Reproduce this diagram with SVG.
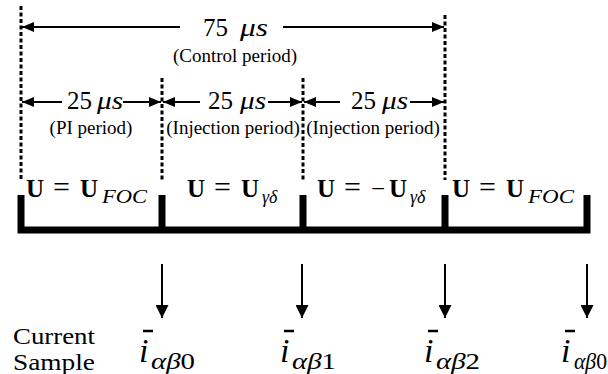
<svg xmlns="http://www.w3.org/2000/svg" width="608" height="374" viewBox="0 0 608 374" font-family="'Liberation Serif', 'DejaVu Serif', serif">
<style>
text{font-family:'Liberation Serif','DejaVu Serif',serif;fill:#000}
.dash{stroke:#000;stroke-width:3;stroke-dasharray:4 2.5;fill:none}
.ha{stroke:#000;stroke-width:1.8;fill:none;marker-end:url(#ah)}
.va{stroke:#000;stroke-width:2;fill:none;marker-end:url(#dh)}
.num{font-size:25px}
.mu{font-size:25px;font-style:italic}
.par{font-size:19px;text-anchor:middle}
.U{font-size:25px;font-weight:bold}
.eq{font-size:30px}
.sub{font-size:18px;font-style:italic}
.lbl{font-size:23px}
.ii{font-size:34px;font-style:italic}
.isub{font-size:23px}
.bar{stroke:#000;stroke-width:2.5}
.thick{stroke:#000;stroke-width:7;fill:none}
</style>
<defs>
<marker id="ah" viewBox="0 0 12 10" refX="12" refY="5" markerWidth="12" markerHeight="10" markerUnits="userSpaceOnUse" orient="auto"><path d="M0,0 L12,5 L0,10 z" fill="#000"/></marker>
<marker id="dh" viewBox="0 0 13 13" refX="13" refY="6.5" markerWidth="13" markerHeight="13" markerUnits="userSpaceOnUse" orient="auto"><path d="M0,0 L13,6.5 L0,13 z" fill="#000"/></marker>
</defs>
<g id="guides">
<line class="dash" x1="21" y1="6" x2="21" y2="180"/>
<line class="dash" x1="162" y1="78" x2="162" y2="180"/>
<line class="dash" x1="303" y1="78" x2="303" y2="180"/>
<line class="dash" x1="445" y1="15" x2="445" y2="180"/>
</g>
<g id="connectors">
<line class="ha" x1="180" y1="27" x2="22" y2="27"/>
<line class="ha" x1="283" y1="27" x2="444" y2="27"/>
<line class="ha" x1="62" y1="102" x2="22" y2="102"/>
<line class="ha" x1="123" y1="102" x2="161" y2="102"/>
<line class="ha" x1="200" y1="102" x2="163" y2="102"/>
<line class="ha" x1="268" y1="102" x2="302" y2="102"/>
<line class="ha" x1="340" y1="102" x2="304" y2="102"/>
<line class="ha" x1="410" y1="102" x2="444" y2="102"/>
<line class="va" x1="162" y1="264" x2="162" y2="318"/>
<line class="va" x1="302" y1="264" x2="302" y2="318"/>
<line class="va" x1="445" y1="264" x2="445" y2="318"/>
<line class="va" x1="587" y1="264" x2="587" y2="318"/>
</g>
<g id="timeline">
<path class="thick" d="M21,195 V230 H587 V195" stroke-linejoin="miter"/>
<line class="thick" x1="162" y1="195" x2="162" y2="230"/>
<line class="thick" x1="303" y1="195" x2="303" y2="230"/>
<line class="thick" x1="445" y1="195" x2="445" y2="230"/>
</g>
<g id="control-period">
<text class="num" x="203" y="36">75</text>
<text class="mu" x="240" y="36" textLength="28" lengthAdjust="spacingAndGlyphs">μs</text>
<text class="par" x="235" y="62">(Control period)</text>
</g>
<g id="pi-period">
<text class="num" x="67" y="109" font-size="24">25</text>
<text class="mu" x="97" y="109" textLength="26" lengthAdjust="spacingAndGlyphs">μs</text>
<text class="par" x="91" y="134">(PI period)</text>
</g>
<g id="injection-period-1">
<text class="num" x="208" y="109">25</text>
<text class="mu" x="240" y="109" textLength="26" lengthAdjust="spacingAndGlyphs">μs</text>
<text class="par" x="233" y="134">(Injection period)</text>
</g>
<g id="injection-period-2">
<text class="num" x="351" y="109">25</text>
<text class="mu" x="382" y="109" textLength="26" lengthAdjust="spacingAndGlyphs">μs</text>
<text class="par" x="373" y="134">(Injection period)</text>
</g>
<g id="u-foc-1">
<text class="U" x="26" y="197">U</text>
<text class="eq" x="53" y="197">=</text>
<text class="U" x="80" y="197">U</text>
<text class="sub" x="102" y="203" textLength="45" lengthAdjust="spacingAndGlyphs">FOC</text>
</g>
<g id="u-gd">
<text class="U" x="187" y="197">U</text>
<text class="eq" x="214" y="197">=</text>
<text class="U" x="241" y="197">U</text>
<text class="sub" x="262" y="203">γδ</text>
</g>
<g id="u-neg-gd">
<text class="U" x="317" y="197">U</text>
<text class="eq" x="344" y="197">=</text>
<text x="371" y="197" font-size="25">−</text>
<text class="U" x="389" y="197">U</text>
<text class="sub" x="410" y="203">γδ</text>
</g>
<g id="u-foc-2">
<text class="U" x="452" y="197">U</text>
<text class="eq" x="479" y="197">=</text>
<text class="U" x="506" y="197">U</text>
<text class="sub" x="528" y="203" textLength="46" lengthAdjust="spacingAndGlyphs">FOC</text>
</g>
<g id="current-sample">
<text class="lbl" x="13" y="344" textLength="82" lengthAdjust="spacingAndGlyphs">Current</text>
<text class="lbl" x="13" y="370" textLength="82" lengthAdjust="spacingAndGlyphs">Sample</text>
</g>
<g id="sample-0">
<line class="bar" x1="143" y1="331" x2="153" y2="331"/>
<text class="ii" x="139" y="362">i</text>
<text class="isub" x="151" y="369" textLength="44" lengthAdjust="spacingAndGlyphs"><tspan font-style="italic">αβ</tspan>0</text>
</g>
<g id="sample-1">
<line class="bar" x1="284" y1="331" x2="294" y2="331"/>
<text class="ii" x="280" y="362">i</text>
<text class="isub" x="292" y="369" textLength="44" lengthAdjust="spacingAndGlyphs"><tspan font-style="italic">αβ</tspan>1</text>
</g>
<g id="sample-2">
<line class="bar" x1="428" y1="331" x2="438" y2="331"/>
<text class="ii" x="424" y="362">i</text>
<text class="isub" x="436" y="369" textLength="44" lengthAdjust="spacingAndGlyphs"><tspan font-style="italic">αβ</tspan>2</text>
</g>
<g id="sample-3">
<line class="bar" x1="565" y1="331" x2="575" y2="331"/>
<text class="ii" x="561" y="362">i</text>
<text class="isub" x="574" y="369" textLength="33" lengthAdjust="spacingAndGlyphs"><tspan font-style="italic">αβ</tspan>0</text>
</g>
</svg>
